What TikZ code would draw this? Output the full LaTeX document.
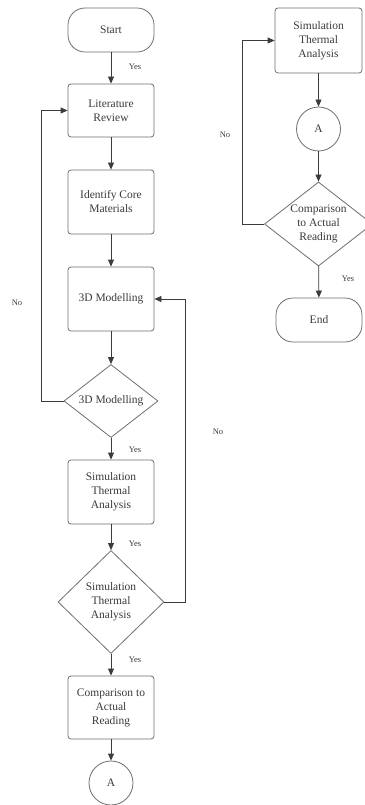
\documentclass[tikz,border=0pt]{standalone}
\usepackage{fontspec}
\setmainfont{Liberation Serif}
\usetikzlibrary{shapes.geometric,arrows.meta}
\definecolor{edgecol}{HTML}{6E6E6E}
\definecolor{linecol}{HTML}{3C3C3C}
\definecolor{txtcol}{HTML}{3A3A3A}
\tikzset{
  box/.style={draw=edgecol, line width=0.8pt, rounded corners=3pt, minimum width=86pt, text=txtcol, align=center, inner sep=0pt, font=\fontsize{11.5}{14}\selectfont},
  term/.style={draw=edgecol, line width=0.8pt, rounded corners=17pt, minimum width=86pt, minimum height=44pt, text=txtcol, font=\fontsize{11.5}{14}\selectfont},
  dia/.style={draw=edgecol, line width=0.8pt, diamond, inner sep=0pt},
  dtext/.style={text=txtcol, align=center, inner sep=0pt, font=\fontsize{11.5}{14}\selectfont},
  conn/.style={draw=edgecol, line width=0.8pt, circle, minimum size=44pt, inner sep=0pt, text=txtcol, font=\fontsize{11.5}{14}\selectfont},
  arr/.style={draw=linecol, line width=0.8pt, -{Triangle[length=7pt,width=6pt]}},
  lbl/.style={text=txtcol, inner sep=0pt, font=\fontsize{8.5}{10}\selectfont},
}
\begin{document}
\begin{tikzpicture}[x=1pt,y=-1pt]
\useasboundingbox (0,0) rectangle (364,805);
% left column
\node[term] (start) at (111,30) {Start};
\node[box, minimum height=53pt] (lit) at (111,110.5) {Literature\\Review};
\node[box, minimum height=64pt] (ident) at (111,202) {Identify Core\\Materials};
\node[box, minimum height=64pt] (m3d) at (111,299) {3D Modelling};
\node[dia, minimum width=94pt, minimum height=73pt] (d1) at (111,401) {};
\node[dtext] (d1t) at (d1) {3D Modelling};
\node[box, minimum height=64pt] (sim) at (111,492) {Simulation\\Thermal\\Analysis};
\node[dia, minimum width=106pt, minimum height=103pt] (d2) at (111,602) {};
\node[dtext] (d2t) at (d2) {Simulation\\Thermal\\Analysis};
\node[box, minimum height=63pt] (comp) at (111,707.5) {Comparison to\\Actual\\Reading};
\node[conn] (a1) at (111,783) {A};
% right column
\node[box, minimum width=87pt, minimum height=65pt] (sim2) at (318.5,40.5) {Simulation\\Thermal\\Analysis};
\node[conn] (a2) at (318.5,129) {A};
\node[dia, minimum width=108pt, minimum height=84pt] (d3) at (318.5,224) {};
\node[dtext] (d3t) at (d3) {Comparison\\to Actual\\Reading};
\node[term] (end) at (319,320) {End};
% connectors
\draw[arr] (start) -- (lit);
\draw[arr] (lit) -- (ident);
\draw[arr] (ident) -- (m3d);
\draw[arr] (m3d) -- (d1);
\draw[arr] (d1) -- (sim);
\draw[arr] (d1.west) -- ++(-22,0) |- (lit.west);
\draw[arr] (sim) -- (d2);
\draw[arr] (d2) -- (comp);
\draw[arr] (d2.east) -- ++(21,0) |- (m3d.east);
\draw[arr] (comp) -- (a1);
\draw[arr] (sim2) -- (a2);
\draw[arr] (a2) -- (d3);
\draw[arr] (d3) -- (end);
\draw[arr] (d3.west) -- ++(-22,0) |- (sim2.west);
% labels
\node[lbl] (y1) at (135,67) {Yes};
\node[lbl] (y2) at (135,450) {Yes};
\node[lbl] (y3) at (135,544) {Yes};
\node[lbl] (y4) at (135,660) {Yes};
\node[lbl] (y5) at (348,279) {Yes};
\node[lbl] (n1) at (17,303) {No};
\node[lbl] (n2) at (218,432) {No};
\node[lbl] (n3) at (225,135) {No};
\end{tikzpicture}
\end{document}
